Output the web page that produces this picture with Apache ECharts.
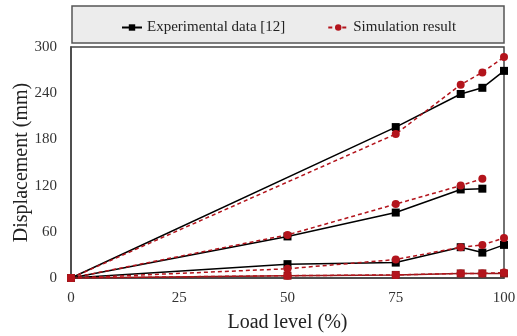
<!DOCTYPE html>
<html>
<head>
<meta charset="utf-8">
<script src="https://cdn.jsdelivr.net/npm/echarts@6/dist/echarts.min.js"></script>
<style>
html, body { margin: 0; padding: 0; background: #fff; }
#cn { width: 517px; height: 336px; }
</style>
</head>
<body>
<div id="cn"></div>
<script>
'use strict';

// load level (%) for each group of curves
const loadA = [0, 75, 90, 95, 100];
const loadB = [0, 50, 75, 90, 95];
const loadC = [0, 50, 75, 90, 95, 100];
const loadD = [0, 50, 75, 90, 95, 100];

// displacement (mm)
const expA = [0, 196, 239, 247, 269];
const simA = [0, 187, 251, 267, 287];
const expB = [0, 54, 85, 115, 116];
const simB = [0, 56, 96, 120, 129];
const expC = [0, 18, 20, 40, 33, 43];
const simC = [0, 12, 24, 40, 43, 52];
const expD = [0, 3, 4, 6, 6, 6];
const simD = [0, 3, 4, 6, 6, 7];

const xTicks = [0, 25, 50, 75, 100];
const yTicks = [0, 60, 120, 180, 240, 300];

const EXP = 'Experimental data [12]';
const SIM = 'Simulation result';
const RED = '#b3141c';
const FONT = '"Liberation Serif", "DejaVu Serif", serif';

const pair = (xs, ys) => xs.map((x, i) => [x, ys[i]]);

const expSeries = (xs, ys, color) => ({
    name: EXP,
    type: 'line',
    data: pair(xs, ys),
    symbol: 'rect',
    symbolSize: 8,
    lineStyle: { color: color, width: 1.5, type: 'solid' },
    itemStyle: { color: color },
    z: 2
});

const simSeries = (xs, ys) => ({
    name: SIM,
    type: 'line',
    data: pair(xs, ys),
    symbol: 'circle',
    symbolSize: 8,
    lineStyle: { color: RED, width: 1.5, type: [4, 3] },
    itemStyle: { color: RED },
    z: 3
});

const chart = echarts.init(document.getElementById('cn'));

const option = {
    animation: false,
    textStyle: { fontFamily: FONT },
    graphic: [{
        type: 'rect',
        shape: { x: 72, y: 6, width: 432, height: 37 },
        style: { fill: '#ececec', stroke: '#555', lineWidth: 1.5 },
        z: 0
    }],
    legend: {
        data: [EXP, SIM],
        top: 15,
        left: 116,
        itemWidth: 20,
        itemHeight: 8,
        itemGap: 42,
        textStyle: { fontFamily: FONT, fontSize: 15, color: '#222' }
    },
    grid: {
        left: 71,
        right: 13,
        top: 47,
        bottom: 58,
        show: true,
        borderColor: '#444',
        borderWidth: 1.5,
        containLabel: false,
        outerBoundsMode: 'none'
    },
    xAxis: {
        type: 'value',
        min: 0,
        max: 100,
        interval: 25,
        name: 'Load level (%)',
        nameLocation: 'middle',
        nameGap: 35,
        nameTextStyle: { fontFamily: FONT, fontSize: 20, color: '#222' },
        axisLine: { show: true, lineStyle: { color: '#444', width: 1.5 } },
        axisTick: { show: false },
        splitLine: { show: false },
        axisLabel: {
            fontFamily: FONT, fontSize: 15, color: '#333', margin: 13,
            formatter: v => xTicks.includes(v) ? String(v) : ''
        }
    },
    yAxis: {
        type: 'value',
        min: 0,
        max: 300,
        interval: 60,
        name: 'Displacement (mm)',
        nameLocation: 'middle',
        nameGap: 39,
        nameMoveOverlap: false,
        nameTextStyle: { fontFamily: FONT, fontSize: 20, color: '#222' },
        axisLine: { show: true, lineStyle: { color: '#444', width: 1.5 } },
        axisTick: { show: false },
        splitLine: { show: false },
        axisLabel: {
            fontFamily: FONT, fontSize: 15, color: '#333', margin: 14,
            formatter: v => yTicks.includes(v) ? String(v) : ''
        }
    },
    series: [
        expSeries(loadA, expA, '#000'),
        expSeries(loadB, expB, '#000'),
        expSeries(loadC, expC, '#000'),
        expSeries(loadD, expD, '#8e1a1a'),
        simSeries(loadA, simA),
        simSeries(loadB, simB),
        simSeries(loadC, simC),
        simSeries(loadD, simD)
    ]
};

chart.setOption(option);
</script>
</body>
</html>
